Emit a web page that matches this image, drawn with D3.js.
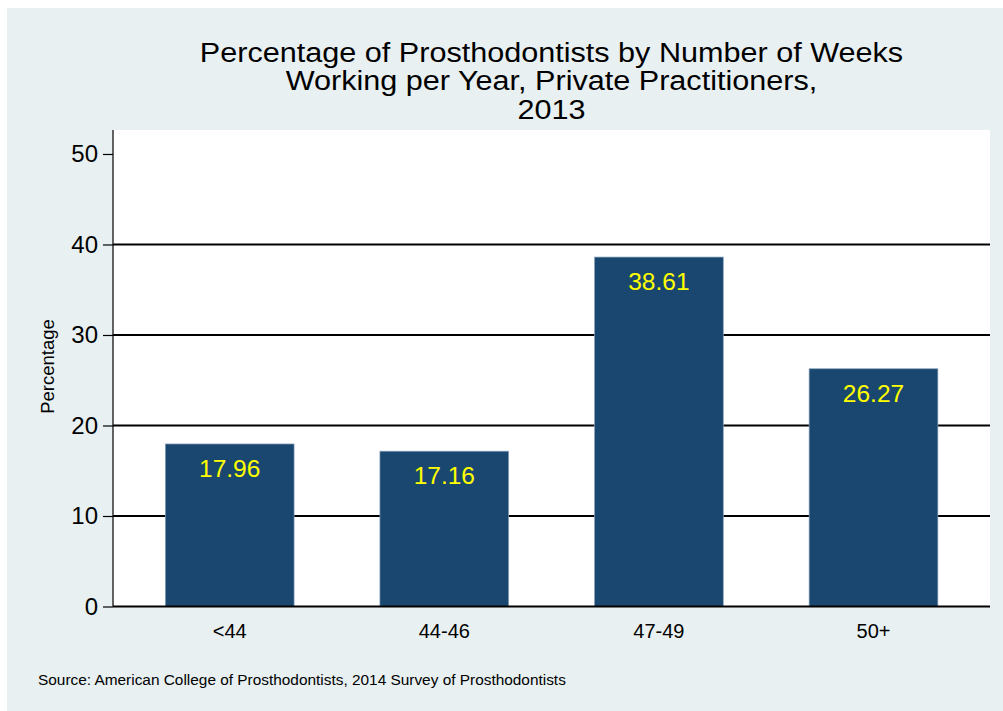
<!DOCTYPE html>
<html><head><meta charset="utf-8">
<script src="https://cdn.jsdelivr.net/npm/d3@7"></script>
<style>html,body{margin:0;padding:0;background:#fff;}svg{display:block;font-family:"Liberation Sans",Arial,sans-serif;}</style>
</head><body>
<svg id="c" width="1003" height="711"></svg>
<script>
const categories = ["<44", "44-46", "47-49", "50+"];
const values = [17.96, 17.16, 38.61, 26.27];
const yTicks = [0, 10, 20, 30, 40, 50];
const gridTicks = [10, 20, 30, 40];
const titleLines = ["Percentage of Prosthodontists by Number of Weeks", "Working per Year, Private Practitioners,", "2013"];
const yTitle = "Percentage";
const source = "Source: American College of Prosthodontists, 2014 Survey of Prosthodontists";

const svg = d3.select("#c");
svg.append("rect").attr("x", 7).attr("y", 8).attr("width", 996).attr("height", 703).attr("fill", "#e8f0f2");

const plot = {left: 113, right: 990, top: 130, bottom: 606.5};
svg.append("rect").attr("x", plot.left).attr("y", plot.top)
  .attr("width", plot.right - plot.left).attr("height", plot.bottom - plot.top).attr("fill", "#fff");

const y = d3.scaleLinear().domain([0, 52.65]).range([plot.bottom, plot.top]);
const x = d3.scaleBand().domain(categories).range([122.4, 980.8]).paddingInner(0.4).paddingOuter(0.2);

// gridlines
svg.append("g").selectAll("line").data(gridTicks).join("line")
  .attr("x1", plot.left).attr("x2", plot.right)
  .attr("y1", d => y(d)).attr("y2", d => y(d))
  .attr("stroke", "#000").attr("stroke-width", 2);

// bars
svg.append("g").selectAll("rect").data(values).join("rect")
  .attr("x", (d, i) => x(categories[i]))
  .attr("width", x.bandwidth())
  .attr("y", d => y(d))
  .attr("height", d => y(0) - y(d))
  .attr("fill", "#1a476f")
  .attr("stroke", "#8aa3bd").attr("stroke-width", 0.7);

// value labels
svg.append("g").selectAll("text").data(values).join("text")
  .attr("x", (d, i) => x(categories[i]) + x.bandwidth() / 2)
  .attr("y", d => y(d) + 33)
  .attr("text-anchor", "middle")
  .attr("font-size", 24.5)
  .attr("fill", "#ffff00")
  .text(d => d.toFixed(2));

// baseline
svg.append("line").attr("x1", plot.left).attr("x2", plot.right)
  .attr("y1", y(0)).attr("y2", y(0)).attr("stroke", "#000").attr("stroke-width", 2);

// y axis
const yAxis = d3.axisLeft(y).tickValues(yTicks).tickSize(10).tickPadding(5).tickFormat(d3.format("d"));
const gy = svg.append("g").attr("transform", `translate(${plot.left},0)`).call(yAxis);
gy.select(".domain").attr("d", `M0,${plot.top}V${plot.bottom}`).attr("stroke", "#000").attr("stroke-width", 1.2);
gy.selectAll(".tick line").attr("stroke", "#000").attr("stroke-width", 1.2);
gy.selectAll(".tick text").attr("font-size", 24).attr("fill", "#000")
  .attr("font-family", "Liberation Sans, Arial, sans-serif");

// x axis labels
const xAxis = d3.axisBottom(x).tickSize(0).tickPadding(17);
const gx = svg.append("g").attr("transform", `translate(0,${plot.bottom})`).call(xAxis);
gx.select(".domain").remove();
gx.selectAll(".tick text").attr("font-size", 20).attr("fill", "#000")
  .attr("font-family", "Liberation Sans, Arial, sans-serif");

// y title
svg.append("text").attr("transform", "translate(54,366.5) rotate(-90)")
  .attr("text-anchor", "middle").attr("font-size", 18.5).attr("fill", "#000").text(yTitle);

// title (slightly condensed height, stretched to the reference width)
const titleSize = 28.2, titleStretch = 30.6 / 28.2;
titleLines.forEach((t, i) => {
  const el = svg.append("text").attr("text-anchor", "middle").attr("font-size", titleSize).attr("fill", "#000")
    .attr("x", 551.5).attr("y", 61.5 + i * 28.8).text(t);
  const w = el.node().getComputedTextLength();
  el.attr("textLength", w * titleStretch).attr("lengthAdjust", "spacingAndGlyphs");
});

// source
svg.append("text").attr("x", 38).attr("y", 685).attr("font-size", 15.4).attr("fill", "#000").text(source);
</script>
</body></html>
